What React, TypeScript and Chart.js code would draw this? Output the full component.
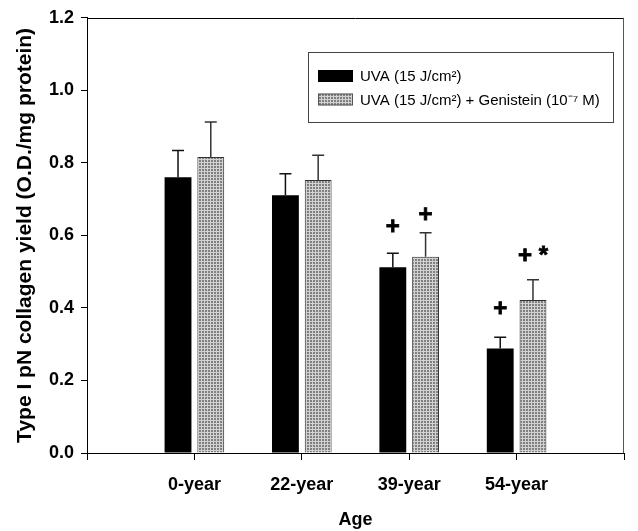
import React, { useEffect, useRef } from "react";
import { Chart, registerables } from "chart.js";

Chart.register(...registerables);

// ---- data ----
const categories = ["0-year", "22-year", "39-year", "54-year"];
const seriesLabels = ["UVA (15 J/cm²)", "UVA (15 J/cm²) + Genistein (10⁻⁷ M)"];
const uvaValues = [0.76, 0.711, 0.512, 0.288];
const uvaErrors = [0.074, 0.059, 0.039, 0.031];
const genValues = [0.816, 0.753, 0.541, 0.422];
const genErrors = [0.097, 0.068, 0.066, 0.056];
const uvaMarks = ["", "", "+", "+"];
const uvaMarkY = [null, null, 0.623, 0.397];
const genMarks = ["", "", "+", "+ *"];
const genMarkY = [null, null, 0.656, 0.541];
const yTicks = [0, 0.2, 0.4, 0.6, 0.8, 1.0, 1.2];
const yTitle = "Type I pN collagen yield (O.D./mg protein)";
const xTitle = "Age";

const FONT = "'Liberation Sans', Arial, Helvetica, sans-serif";

function makePattern(): CanvasPattern | string {
  const c = document.createElement("canvas");
  c.width = 3;
  c.height = 3;
  const g = c.getContext("2d");
  if (!g) return "#aaaaaa";
  g.fillStyle = "#808080";
  g.fillRect(0, 0, 3, 3);
  g.fillStyle = "#d2d2d2";
  g.fillRect(0, 0, 3, 1);
  g.fillRect(0, 0, 1, 3);
  const p = g.createPattern(c, "repeat");
  return p || "#aaaaaa";
}

const errorBarPlugin = {
  id: "errorBars",
  afterDatasetsDraw(chart: any) {
    const ctx = chart.ctx;
    const yScale = chart.scales.y;
    const errs = [uvaErrors, genErrors];
    const vals = [uvaValues, genValues];
    const marks = [uvaMarks, genMarks];
    const markY = [uvaMarkY, genMarkY];
    ctx.save();
    for (let d = 0; d < 2; d++) {
      const meta = chart.getDatasetMeta(d);
      for (let i = 0; i < categories.length; i++) {
        const el = meta.data[i + 1];
        if (!el) continue;
        const top = yScale.getPixelForValue(vals[d][i]);
        const et = yScale.getPixelForValue(vals[d][i] + errs[d][i]);
        ctx.strokeStyle = d === 0 ? "#111" : "#333";
        ctx.lineWidth = 1.5;
        ctx.beginPath();
        ctx.moveTo(el.x, top);
        ctx.lineTo(el.x, et);
        ctx.moveTo(el.x - 6, et);
        ctx.lineTo(el.x + 6, et);
        ctx.stroke();
        const m = marks[d][i];
        const my = markY[d][i];
        if (m && my != null) {
          ctx.fillStyle = "#000";
          ctx.strokeStyle = "#000";
          ctx.lineWidth = 0.8;
          ctx.font = `bold 24px ${FONT}`;
          ctx.textAlign = "center";
          ctx.textBaseline = "middle";
          const py = yScale.getPixelForValue(my);
          ctx.fillText(m, el.x, py);
          ctx.strokeText(m, el.x, py);
        }
      }
    }
    ctx.restore();
  },
};

const framePlugin = {
  id: "frame",
  afterDatasetsDraw(chart: any) {
    const { ctx, chartArea } = chart;
    ctx.save();
    ctx.lineWidth = 1;
    ctx.strokeStyle = "#000";
    ctx.beginPath();
    ctx.moveTo(chartArea.left, Math.round(chartArea.top) + 0.5);
    ctx.lineTo(chartArea.right, Math.round(chartArea.top) + 0.5);
    ctx.stroke();
    ctx.strokeStyle = "#555";
    ctx.beginPath();
    ctx.moveTo(Math.round(chartArea.right) - 0.5, chartArea.top);
    ctx.lineTo(Math.round(chartArea.right) - 0.5, chartArea.bottom);
    ctx.stroke();
    ctx.restore();
  },
};

const legendPlugin = {
  id: "boxLegend",
  afterDraw(chart: any) {
    const ctx = chart.ctx;
    const bx = 308.5, by = 52.5, bw = 305, bh = 70;
    ctx.save();
    ctx.strokeStyle = "#444";
    ctx.lineWidth = 1;
    ctx.strokeRect(bx, by, bw, bh);
    const rows = [76, 99.5];
    chart.data.datasets.forEach((ds: any, i: number) => {
      const cy = rows[i];
      ctx.fillStyle = ds.backgroundColor;
      ctx.fillRect(318, cy - 6, 35, 12);
      if (i === 1) {
        ctx.strokeStyle = "#555";
        ctx.strokeRect(318.5, cy - 5.5, 34, 11);
      }
      ctx.fillStyle = "#000";
      ctx.font = `15px ${FONT}`;
      ctx.textAlign = "left";
      ctx.textBaseline = "middle";
      ctx.fillText(ds.label, 360, cy + 1);
    });
    ctx.restore();
  },
};

export default function App() {
  const ref = useRef<HTMLCanvasElement | null>(null);
  useEffect(() => {
    if (!ref.current) return;
    Chart.defaults.color = "#000";
    const pattern = makePattern();
    const labels = ["", ...categories, ""];
    const chart = new Chart(ref.current, {
      type: "bar",
      data: {
        labels,
        datasets: [
          {
            label: seriesLabels[0],
            data: [null, ...uvaValues, null],
            backgroundColor: "#000000",
            borderWidth: 0,
            categoryPercentage: 0.61,
            barPercentage: 0.82,
          },
          {
            label: seriesLabels[1],
            data: [null, ...genValues, null],
            backgroundColor: pattern as any,
            borderColor: "#333",
            borderWidth: 1,
            categoryPercentage: 0.61,
            barPercentage: 0.82,
          },
        ],
      },
      options: {
        animation: false,
        responsive: true,
        maintainAspectRatio: false,
        devicePixelRatio: 1,
        layout: { padding: { left: 0, top: 17, right: 8, bottom: 0 } },
        plugins: {
          legend: { display: false },
          tooltip: { enabled: false },
        },
        scales: {
          x: {
            offset: false,
            grid: {
              display: true,
              offset: false,
              drawOnChartArea: false,
              drawTicks: true,
              tickLength: 7,
              color: "#000",
            },
            border: { display: true, color: "#000", width: 1 },
            ticks: {
              autoSkip: false,
              maxRotation: 0,
              padding: 14,
              color: "#000",
              font: { family: FONT, size: 18, weight: "bold" },
            },
            title: {
              display: true,
              text: xTitle,
              color: "#000",
              padding: { top: 0, bottom: 0 },
              font: { family: FONT, size: 18, weight: "bold" },
            },
            afterFit: (s: any) => {
              s.height = 78;
            },
          },
          y: {
            min: yTicks[0],
            max: yTicks[yTicks.length - 1],
            afterBuildTicks: (s: any) => {
              s.ticks = yTicks.map((v) => ({ value: v }));
            },
            grid: {
              display: true,
              drawOnChartArea: false,
              drawTicks: true,
              tickLength: 6,
              color: "#000",
            },
            border: { display: true, color: "#000", width: 1 },
            ticks: {
              padding: 7,
              color: "#000",
              font: { family: FONT, size: 18, weight: "bold" },
              callback: (v: any) => Number(v).toFixed(1),
            },
            title: {
              display: true,
              text: yTitle,
              color: "#000",
              padding: { top: 13, bottom: 0 },
              font: { family: FONT, size: 21, weight: "bold" },
            },
            afterFit: (s: any) => {
              s.width = 87;
            },
          },
        },
      },
      plugins: [framePlugin, errorBarPlugin, legendPlugin],
    });
    return () => chart.destroy();
  }, []);
  return (
    <div style={{ position: "fixed", left: 0, top: 0, width: 638, height: 531, background: "#fff" }}>
      <canvas ref={ref} />
    </div>
  );
}
